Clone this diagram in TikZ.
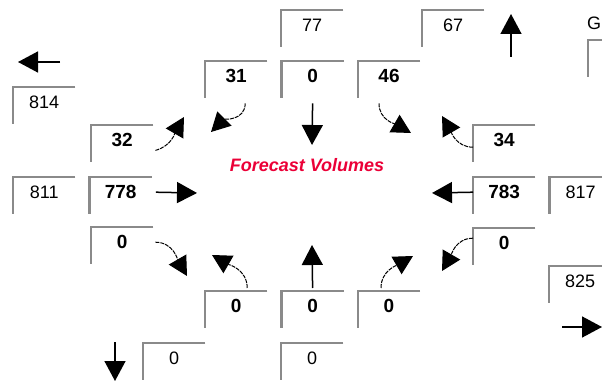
\documentclass[tikz,border=0pt]{standalone}
\usepackage{fontspec}
\setmainfont{Liberation Sans}
\usetikzlibrary{arrows.meta, positioning}

\definecolor{rimgray}{RGB}{138,138,138}
\definecolor{fcred}{RGB}{235,0,55}

\begin{document}
\begin{tikzpicture}[
    x=1pt, y=1pt,
    node distance=14pt,
    cell/.style={anchor=north west, minimum width=62pt, minimum height=30pt, inner sep=0pt, font=\fontsize{18}{18}\selectfont},
    vol/.style={cell, font=\fontsize{19}{19}\selectfont\bfseries},
    rim/.style={draw=rimgray, line width=2.2pt},
    arrow/.style={-{Triangle[length=20pt, width=21pt]}, line width=1.5pt},
    turn/.style={-{Triangle[length=19pt, width=20pt]}, line width=1pt, dash pattern=on 4pt off 1pt}
]
\useasboundingbox (0,0) rectangle (602,383);
\clip (0,0) rectangle (602,383);

% Nodes
\node[cell] (b814) at (13,296) {814};
\node[cell] (b811) at (13,206) {811};
\node[vol, right=of b811] (b778) {778};
\node[vol] (b32) at (91,258) {32};
\node[vol] (bsw) at (91,156) {0};

\node[cell] (b77) at (281,373) {77};
\node[cell] (b67) at (422,373) {67};
\node[cell] (bg) at (588,343) {};
\node[anchor=west, inner sep=0pt, font=\fontsize{18}{18}\selectfont] (lblg) at (587,360) {G};

\node[vol] (b31) at (205,322) {31};
\node[vol, right=of b31] (bn) {0};
\node[vol, right=of bn] (b46) {46};

\node[vol] (b34) at (473,258) {34};
\node[vol] (b783) at (473,206) {783};
\node[cell, right=of b783] (b817) {817};
\node[vol] (bse) at (473,155) {0};
\node[cell] (b825) at (549,117) {825};

\node[vol] (bs1) at (205,92) {0};
\node[vol, right=of bs1] (bs2) {0};
\node[vol, right=of bs2] (bs3) {0};

\node[cell] (bb1) at (143,40) {0};
\node[cell] (bb2) at (281,40) {0};

\node[font=\fontsize{18}{18}\selectfont\bfseries\itshape, text=fcred] (fc) at (307,218) {Forecast Volumes};

% Box rims
\foreach \c in {b814,b811,b778,b32,bsw,b77,b67,bg,b31,bn,b46,b34,b783,b817,bse,b825,bs1,bs2,bs3,bb1,bb2}
  \draw[rim] (\c.north east) -- (\c.north west) -- ([yshift=-37pt]\c.north west);

% Arrow ends
\coordinate (wtail) at (60,321);
\coordinate (wtip) at (18,321);
\coordinate (ntail) at (511,326);
\coordinate (ntip) at (511,369);
\coordinate (stail) at (115,41);
\coordinate (stip) at (115,2);
\coordinate (etail) at (562,56);
\coordinate (etip) at (602,56);
\coordinate (t778) at (197,190);
\coordinate (t783) at (432,190);
\coordinate (tn) at (312,238);
\coordinate (ts) at (312,138);
\coordinate (t32) at (184,266);
\coordinate (t31) at (211,251);
\coordinate (t46) at (411,250);
\coordinate (t34) at (442,267);
\coordinate (tsw) at (187,107);
\coordinate (ts1) at (212,128);
\coordinate (ts3) at (413,127);
\coordinate (tse) at (442,112);

% Arrows
\draw[arrow] (wtail) -- (wtip);
\draw[arrow] (ntail) -- (ntip);
\draw[arrow] (stail) -- (stip);
\draw[arrow] (etail) -- (etip);
\draw[arrow] ([xshift=4pt]b778.east) -- (t778);
\draw[arrow] (b783.west) -- (t783);
\draw[arrow] ([yshift=-12pt]bn.south) -- (tn);
\draw[arrow] ([yshift=3pt]bs2.north) -- (ts);

% Turning movements
\draw[turn] ([xshift=2pt,yshift=5pt]b32.south east) to[out=15, in=240] (t32);
\draw[turn] ([xshift=9pt,yshift=-12pt]b31.south) to[out=270, in=45] (t31);
\draw[turn] ([xshift=-10pt,yshift=-12pt]b46.south) to[out=270, in=150] (t46);
\draw[turn] ([yshift=-7pt]b34.west) to[out=180, in=300] (t34);
\draw[turn] ([xshift=2pt]bsw.east) to[out=0, in=120] (tsw);
\draw[turn] ([xshift=11pt,yshift=3pt]bs1.north) to[out=90, in=330] (ts1);
\draw[turn] ([xshift=-8pt,yshift=3pt]bs3.north) to[out=90, in=210] (ts3);
\draw[turn] ([yshift=5pt]bse.west) to[out=180, in=60] (tse);

\end{tikzpicture}
\end{document}
